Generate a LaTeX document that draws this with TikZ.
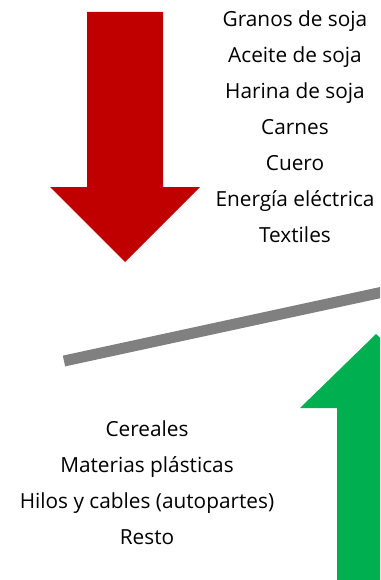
\documentclass[tikz,border=0pt]{standalone}
\usepackage{fontspec}
\setmainfont{Open Sans}
\usetikzlibrary{positioning}
\definecolor{rojo}{HTML}{C00000}
\definecolor{verde}{HTML}{00B050}
\definecolor{gris}{HTML}{808080}

\begin{document}
\begin{tikzpicture}[x=1pt, y=-1pt,
  every node/.style={font=\fontsize{20.8}{24}\selectfont, inner sep=0pt, text height=15pt, text depth=4pt}]
\clip (0,0) rectangle (380,580);

% flecha roja (baja)
\fill[rojo] (87,12) -- (163,12) -- (163,187) -- (200,187) -- (125,262) -- (50,187) -- (87,187) -- cycle;

% flecha verde (sube)
\fill[verde] (337,585) -- (337,408) -- (300,408) -- (376,334) -- (452,408) -- (415,408) -- (415,585) -- cycle;

% balanza
\draw[gris, line width=11pt] (64,361) -- (420,284);

% productos que bajan
\node (soja) at (295,21) {Granos de soja};
\node[below=16.6pt of soja] (aceite) {Aceite de soja};
\node[below=16.6pt of aceite] (harina) {Harina de soja};
\node[below=16.6pt of harina] (carnes) {Carnes};
\node[below=16.6pt of carnes] (cuero) {Cuero};
\node[below=16.6pt of cuero] (energia) {Energía eléctrica};
\node[below=16.6pt of energia] (textiles) {Textiles};

% productos que suben
\node (cereales) at (147,431) {Cereales};
\node[below=16.6pt of cereales] (plasticas) {Materias plásticas};
\node[below=16.6pt of plasticas] (hilos) {Hilos y cables (autopartes)};
\node[below=16.6pt of hilos] (resto) {Resto};
\end{tikzpicture}
\end{document}
